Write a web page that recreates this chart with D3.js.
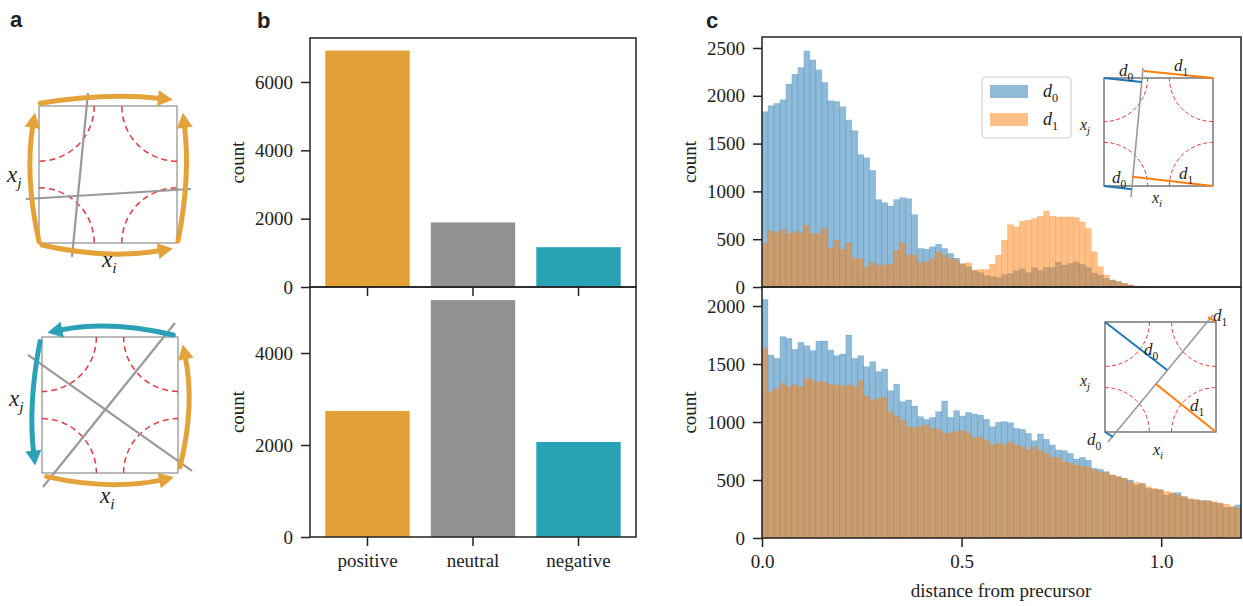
<!DOCTYPE html>
<html>
<head>
<meta charset="utf-8">
<script src="https://cdn.jsdelivr.net/npm/d3@7"></script>
<style>
  body { margin: 0; background: #fff; }
  text { font-family: "Liberation Serif", "Times New Roman", serif; fill: #222; }
</style>
</head>
<body>
<div id="chart"></div>
<script>
// panel b
const categories = ["positive", "neutral", "negative"];
const countsTop = [6920, 1890, 1165];
const countsBottom = [2740, 5150, 2065];
const barColors = ["#e1a137", "#929295", "#27a3b5"];
const barTicksTop = [0, 2000, 4000, 6000];
const barTicksBottom = [0, 2000, 4000];

// panel c, bins of width 0.015 starting at 0
const binWidth = 0.015;
const d0Top = [1833,1896,1920,1958,2122,2226,2295,2469,2375,2271,2139,1948,1940,1885,1747,1635,1385,1351,1219,913,
  882,847,913,934,924,757,403,396,420,448,403,351,302,243,212,170,150,120,110,100,
  130,143,170,190,150,200,175,205,205,260,230,245,262,235,205,145,125,91,73,56,
  38,21,10,3];
const d1Top = [455,587,566,601,559,583,566,646,559,559,611,410,490,392,462,300,295,212,253,229,
  229,240,385,462,333,333,253,264,300,368,333,300,281,240,253,177,184,184,240,333,
  490,653,628,688,698,715,740,795,740,733,733,733,726,681,611,368,212,125,73,56,
  38,21,10,3];
const d0Bottom = [2057,1578,1549,1736,1721,1626,1687,1658,1615,1698,1698,1621,1572,1586,1750,1549,1572,1477,1520,1434,
  1457,1270,1327,1175,1190,1138,1046,1023,1040,1089,1181,1040,1098,1052,1083,1069,1060,1023,960,997,
  1003,994,945,937,902,839,897,851,802,759,753,730,681,695,672,600,592,572,543,529,
  514,500,457,471,428,420,414,371,385,391,356,333,328,322,322,305,299,264,264,285];
const d1Bottom = [1635,1261,1290,1333,1304,1319,1304,1376,1362,1347,1342,1325,1319,1313,1319,1304,1356,1224,1190,1204,
  1213,1089,1052,1017,960,954,960,975,946,937,903,909,917,926,903,860,874,845,802,816,
  805,830,802,787,759,787,753,730,695,695,658,645,629,620,609,586,570,563,543,529,
  514,486,480,466,443,428,420,400,391,371,356,340,333,322,318,313,300,293,275,256];
const histTicksTop = [0, 500, 1000, 1500, 2000, 2500];
const histTicksBottom = [0, 500, 1000, 1500, 2000];
const distTicks = [0, 0.5, 1.0];
const seriesNames = ["0", "1"];
const blue = "#1f77b4", orange = "#ff7f0e";
const gold = "#e3a33a", teal = "#2aa1b7";

const svg = d3.select("#chart").append("svg")
  .attr("width", 1243)
  .attr("height", 606);

// ---------- helpers ----------
const styleAxis = (g) => {
  g.select(".domain").remove();
  g.selectAll(".tick line").attr("stroke", "#222").attr("stroke-width", 1.5);
  g.selectAll(".tick text")
    .attr("font-size", 19)
    .attr("fill", "#222");
};

const frame = (x0, x1, y0, y1) => {
  svg.append("rect")
    .attr("x", x0).attr("y", y0)
    .attr("width", x1 - x0).attr("height", y1 - y0)
    .attr("fill", "none")
    .attr("stroke", "#222")
    .attr("stroke-width", 1.5);
};

const yLabel = (x, y, txt) => {
  svg.append("text")
    .attr("transform", "translate(" + x + "," + y + ") rotate(-90)")
    .attr("text-anchor", "middle")
    .attr("font-size", 19)
    .text(txt);
};

const subText = (g, x, y, base, sub, size, subItalic, anchor) => {
  const t = g.append("text")
    .attr("x", x).attr("y", y)
    .attr("font-size", size)
    .attr("text-anchor", anchor || "start");
  t.append("tspan").attr("font-style", "italic").text(base);
  t.append("tspan")
    .attr("dy", size * 0.28)
    .attr("font-size", size * 0.68)
    .attr("font-style", subItalic ? "italic" : "normal")
    .text(sub);
};

const panelLetter = (x, y, l) => {
  svg.append("text")
    .attr("x", x).attr("y", y)
    .style("font-family", "'Liberation Sans', Arial, sans-serif")
    .style("font-weight", "bold")
    .attr("font-size", 22)
    .text(l);
};

// quarter circles at the four corners of a unit square
const cornerArcs = (g, sx, sy, r, width, dash) => {
  const R = sx(r) - sx(0);
  const corners = [[0, 0, -Math.PI / 2, 0], [0, 1, 0, Math.PI / 2], [1, 1, Math.PI / 2, Math.PI], [1, 0, Math.PI, 1.5 * Math.PI]];
  corners.forEach(c => {
    const cx = sx(c[0]), cy = sy(c[1]);
    const p = d3.path();
    p.moveTo(cx + R * Math.cos(c[2]), cy + R * Math.sin(c[2]));
    p.arc(cx, cy, R, c[2], c[3]);
    g.append("path")
      .attr("d", p.toString())
      .attr("fill", "none")
      .attr("stroke", "#e0393e")
      .attr("stroke-width", width)
      .attr("stroke-dasharray", dash);
  });
};

const segment = (g, sx, sy, a, b, color, w) => {
  g.append("path")
    .attr("d", d3.line()([[sx(a[0]), sy(a[1])], [sx(b[0]), sy(b[1])]]))
    .attr("stroke", color)
    .attr("stroke-width", w)
    .attr("fill", "none");
};

const square = (g, sx, sy, color, w) => {
  g.append("rect")
    .attr("x", sx(0)).attr("y", sy(1))
    .attr("width", sx(1) - sx(0)).attr("height", sy(0) - sy(1))
    .attr("fill", "none")
    .attr("stroke", color)
    .attr("stroke-width", w);
};

// curved arrow, quadratic from p0 to p1 with control c (unit coords)
const curvedArrow = (g, sx, sy, p0, c, p1, color) => {
  const P0 = [sx(p0[0]), sy(p0[1])], C = [sx(c[0]), sy(c[1])], P1 = [sx(p1[0]), sy(p1[1])];
  let dx = P1[0] - C[0], dy = P1[1] - C[1];
  const len = Math.hypot(dx, dy);
  dx /= len; dy /= len;
  const headL = 15, headW = 8;
  const end = [P1[0] - dx * (headL - 3), P1[1] - dy * (headL - 3)];
  const p = d3.path();
  p.moveTo(P0[0], P0[1]);
  p.quadraticCurveTo(C[0], C[1], end[0], end[1]);
  g.append("path")
    .attr("d", p.toString())
    .attr("fill", "none")
    .attr("stroke", color)
    .attr("stroke-width", 5)
    .attr("stroke-linecap", "round");
  const bx = P1[0] - dx * headL, by = P1[1] - dy * headL;
  g.append("path")
    .attr("d", d3.line()([[P1[0], P1[1]], [bx - dy * headW, by + dx * headW], [bx + dy * headW, by - dx * headW]]) + "Z")
    .attr("fill", color);
};

// ---------- panel a ----------
panelLetter(10, 27, "a");

const a1 = svg.append("g");
const a1x = d3.scaleLinear().domain([0, 1]).range([39, 177]);
const a1y = d3.scaleLinear().domain([0, 1]).range([243, 106]);
square(a1, a1x, a1y, "#777", 1);
cornerArcs(a1, a1x, a1y, 0.4, 1.5, "6,4");
segment(a1, a1x, a1y, [0.355, 1.095], [0.239, -0.102], "#999", 2.2);
segment(a1, a1x, a1y, [-0.094, 0.321], [1.10, 0.394], "#999", 2.2);
curvedArrow(a1, a1x, a1y, [0.01, 1.02], [0.49, 1.10], [0.97, 1.045], gold);
curvedArrow(a1, a1x, a1y, [0.0, 0.01], [-0.105, 0.48], [-0.03, 0.95], gold);
curvedArrow(a1, a1x, a1y, [1.007, 0.015], [1.10, 0.48], [1.043, 0.95], gold);
curvedArrow(a1, a1x, a1y, [0.02, -0.015], [0.49, -0.123], [0.97, -0.04], gold);
subText(a1, 7, 182, "x", "j", 23, true);
subText(a1, 102, 267, "x", "i", 23, true);

const a2 = svg.append("g");
const a2x = d3.scaleLinear().domain([0, 1]).range([42, 178]);
const a2y = d3.scaleLinear().domain([0, 1]).range([473, 337]);
square(a2, a2x, a2y, "#777", 1);
cornerArcs(a2, a2x, a2y, 0.4, 1.5, "6,4");
segment(a2, a2x, a2y, [0.007, -0.103], [0.978, 1.103], "#999", 2.2);
segment(a2, a2x, a2y, [-0.103, 0.868], [1.103, 0.015], "#999", 2.2);
curvedArrow(a2, a2x, a2y, [0.965, 1.015], [0.5, 1.126], [0.04, 1.032], teal);
curvedArrow(a2, a2x, a2y, [-0.015, 0.966], [-0.104, 0.5], [-0.05, 0.055], teal);
curvedArrow(a2, a2x, a2y, [1.015, 0.046], [1.127, 0.5], [1.035, 0.945], gold);
curvedArrow(a2, a2x, a2y, [0.034, -0.027], [0.5, -0.132], [0.97, -0.032], gold);
subText(a2, 9, 406, "x", "j", 23, true);
subText(a2, 100, 503, "x", "i", 23, true);

// ---------- panel b ----------
panelLetter(257, 28, "b");

const bx = d3.scaleBand()
  .domain(categories)
  .range([310, 636])
  .paddingInner(0.2)
  .paddingOuter(0.145);

const drawBarPanel = (counts, ticks, y0, y1, maxV, showLabels) => {
  const y = d3.scaleLinear().domain([0, maxV]).range([y1, y0]);
  svg.append("g").selectAll("rect")
    .data(counts)
    .enter()
    .append("rect")
    .attr("x", (d, i) => bx(categories[i]))
    .attr("width", bx.bandwidth())
    .attr("y", d => y(d))
    .attr("height", d => y(0) - y(d))
    .attr("fill", (d, i) => barColors[i]);
  svg.append("g")
    .attr("transform", "translate(310,0)")
    .call(d3.axisLeft(y).tickValues(ticks).tickFormat(d3.format("d")).tickSize(9).tickPadding(8))
    .call(styleAxis);
  svg.append("g")
    .attr("transform", "translate(0," + y1 + ")")
    .call(d3.axisBottom(bx).tickSize(9).tickPadding(8).tickFormat(showLabels ? (d => d) : ""))
    .call(styleAxis);
  frame(310, 636, y0, y1);
  yLabel(244, (y0 + y1) / 2, "count");
};
drawBarPanel(countsTop, barTicksTop, 38, 287, 7287, false);
drawBarPanel(countsBottom, barTicksBottom, 287, 537, 5435, true);

// ---------- panel c ----------
panelLetter(706, 28, "c");

const cx = d3.scaleLinear().domain([0, 1.2]).range([762, 1241]);

const drawHist = (g, values, y, color) => {
  g.append("g").selectAll("rect")
    .data(values)
    .enter()
    .append("rect")
    .attr("x", (d, i) => cx(i * binWidth))
    .attr("width", (d, i) => cx((i + 1) * binWidth) - cx(i * binWidth))
    .attr("y", d => y(d))
    .attr("height", d => y(0) - y(d))
    .attr("fill", color)
    .attr("fill-opacity", 0.5)
    .attr("stroke", color)
    .attr("stroke-opacity", 0.35)
    .attr("stroke-width", 0.5);
};

const drawHistPanel = (d0, d1, ticks, y0, y1, maxV, showX) => {
  const y = d3.scaleLinear().domain([0, maxV]).range([y1, y0]);
  const g = svg.append("g");
  drawHist(g, d0, y, blue);
  drawHist(g, d1, y, orange);
  svg.append("g")
    .attr("transform", "translate(762,0)")
    .call(d3.axisLeft(y).tickValues(ticks).tickFormat(d3.format("d")).tickSize(9).tickPadding(8))
    .call(styleAxis);
  if (showX) {
    svg.append("g")
      .attr("transform", "translate(0," + y1 + ")")
      .call(d3.axisBottom(cx).tickValues(distTicks).tickFormat(d3.format(".1f")).tickSize(9).tickPadding(8))
      .call(styleAxis);
  }
  frame(762, 1241, y0, y1);
  yLabel(696, (y0 + y1) / 2, "count");
  return g;
};
drawHistPanel(d0Top, d1Top, histTicksTop, 37, 287, 2615, false);
drawHistPanel(d0Bottom, d1Bottom, histTicksBottom, 287, 538, 2164, true);

svg.append("text")
  .attr("x", 1001)
  .attr("y", 597)
  .attr("text-anchor", "middle")
  .attr("font-size", 19)
  .text("distance from precursor");

// legend
const leg = svg.append("g");
leg.append("rect")
  .attr("x", 982).attr("y", 77)
  .attr("width", 89).attr("height", 61)
  .attr("rx", 4)
  .attr("fill", "#fff").attr("fill-opacity", 0.8)
  .attr("stroke", "#d0d0d0")
  .attr("stroke-width", 1.2);
[blue, orange].forEach((c, i) => {
  leg.append("rect")
    .attr("x", 990).attr("y", 85 + i * 28)
    .attr("width", 38).attr("height", 13)
    .attr("fill", c).attr("fill-opacity", 0.5);
  subText(leg, 1043, 97 + i * 28, "d", seriesNames[i], 18, false);
});

// inset top
const i1 = svg.append("g");
const i1x = d3.scaleLinear().domain([0, 1]).range([1104, 1213]);
const i1y = d3.scaleLinear().domain([0, 1]).range([186, 78]);
square(i1, i1x, i1y, "#444", 1.1);
cornerArcs(i1, i1x, i1y, 0.4, 1, "4,2.5");
segment(i1, i1x, i1y, [0.358, 1.093], [0.248, -0.102], "#999", 1.6);
segment(i1, i1x, i1y, [0, 1], [0.345, 0.963], blue, 2);
segment(i1, i1x, i1y, [0.367, 1.065], [1, 1], orange, 2);
segment(i1, i1x, i1y, [0, 0], [0.254, -0.03], blue, 2);
segment(i1, i1x, i1y, [0.26, 0.086], [1, 0], orange, 2);
subText(i1, 1119, 76, "d", "0", 17, false);
subText(i1, 1174, 71, "d", "1", 17, false);
subText(i1, 1112, 183, "d", "0", 17, false);
subText(i1, 1179, 179, "d", "1", 17, false);
subText(i1, 1080, 130, "x", "j", 16, true);
subText(i1, 1152, 203, "x", "i", 16, true);

// inset bottom
const i2 = svg.append("g");
const i2x = d3.scaleLinear().domain([0, 1]).range([1105, 1216]);
const i2y = d3.scaleLinear().domain([0, 1]).range([432, 322]);
square(i2, i2x, i2y, "#444", 1.1);
cornerArcs(i2, i2x, i2y, 0.4, 1, "4,2.5");
segment(i2, i2x, i2y, [0.027, -0.09], [0.973, 1.064], "#999", 1.6);
segment(i2, i2x, i2y, [0, 1], [0.559, 0.564], blue, 2);
segment(i2, i2x, i2y, [0.459, 0.436], [1, 0], orange, 2);
segment(i2, i2x, i2y, [0, 0], [0.072, -0.045], blue, 2);
segment(i2, i2x, i2y, [0.928, 1.045], [1, 1], orange, 2);
subText(i2, 1144, 355, "d", "0", 17, false);
subText(i2, 1190, 411, "d", "1", 17, false);
subText(i2, 1087, 445, "d", "0", 17, false);
subText(i2, 1213, 321, "d", "1", 17, false);
subText(i2, 1080, 386, "x", "j", 16, true);
subText(i2, 1153, 455, "x", "i", 16, true);
</script>
</body>
</html>
